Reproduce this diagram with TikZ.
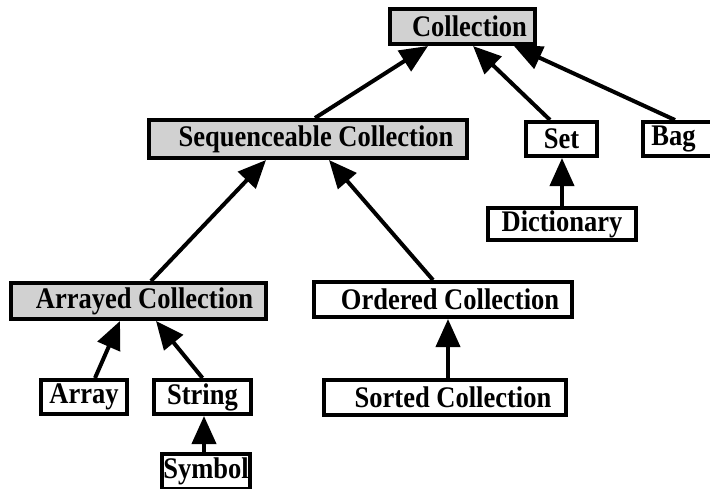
\documentclass[tikz,border=0pt]{standalone}
\usepackage{fontspec}
\usepackage{graphicx}
\setmainfont{Liberation Serif}
\usetikzlibrary{arrows.meta}
\newcommand{\tallt}[1]{\scalebox{1.02}[1.15]{#1}}
\begin{document}
\begin{tikzpicture}[x=1pt,y=-1pt,
  box/.style={draw, line width=4pt, fill=white, inner sep=0pt,
    font=\bfseries\fontsize{26}{30}\selectfont},
  shaded/.style={box, fill=black!18},
  isa/.style={line width=4pt, -{Triangle[length=28pt,width=24pt]}}]
\useasboundingbox (0,0) rectangle (710,488);
% nodes
\node[shaded, minimum width=145pt, minimum height=35pt] (coll) at (462.5,26.5) {\hspace*{14pt}\tallt{Collection}};
\node[shaded, minimum width=318pt, minimum height=38pt] (seq) at (308,139) {\hspace*{16pt}\tallt{Sequenceable Collection}};
\node[box, minimum width=71pt, minimum height=34pt] (set) at (561.5,139) {\tallt{Set}};
\node[box, minimum width=76pt, minimum height=34pt] (bag) at (681,139) {\tallt{Bag}\hspace*{15pt}};
\node[box, minimum width=148pt, minimum height=32pt] (dict) at (562,224) {\tallt{Dictionary}};
\node[shaded, minimum width=255pt, minimum height=36pt] (arrayed) at (138.5,301) {\hspace*{12pt}\tallt{Arrayed Collection}};
\node[box, minimum width=258pt, minimum height=35pt] (ordered) at (443,299.5) {\hspace*{14pt}\tallt{Ordered Collection}};
\node[box, minimum width=86pt, minimum height=34pt] (array) at (84,397) {\tallt{Array}};
\node[box, minimum width=97pt, minimum height=34pt] (string) at (202.5,397) {\tallt{String}};
\node[box, minimum width=88pt, minimum height=35pt] (symbol) at (206,471) {\tallt{Symbol}};
\node[box, minimum width=242pt, minimum height=35pt] (sorted) at (445,397.5) {\hspace*{16pt}\tallt{Sorted Collection}};
% connectors
\draw[isa] ([xshift=7pt]seq.north) -- ([xshift=-34.5pt]coll.south);
\draw[isa] ([xshift=-11.5pt]set.north) -- ([xshift=10.5pt]coll.south);
\draw[isa] ([xshift=-6pt]bag.north) -- ([xshift=51.5pt]coll.south);
\draw[isa] (dict.north) -- (dict.north |- set.south);
\draw[isa] ([xshift=12.5pt]arrayed.north) -- ([xshift=-42pt]seq.south);
\draw[isa] ([xshift=-10pt]ordered.north) -- ([xshift=21pt]seq.south);
\draw[isa] ([xshift=11pt]array.north) -- ([xshift=-18.5pt]arrayed.south);
\draw[isa] (string.north) -- ([xshift=17.5pt]arrayed.south);
\draw[isa] ([xshift=-2pt]symbol.north) -- ([xshift=-2pt]symbol.north |- string.south);
\draw[isa] ([xshift=3pt]sorted.north) -- ([xshift=3pt]sorted.north |- ordered.south);
\end{tikzpicture}
\end{document}
